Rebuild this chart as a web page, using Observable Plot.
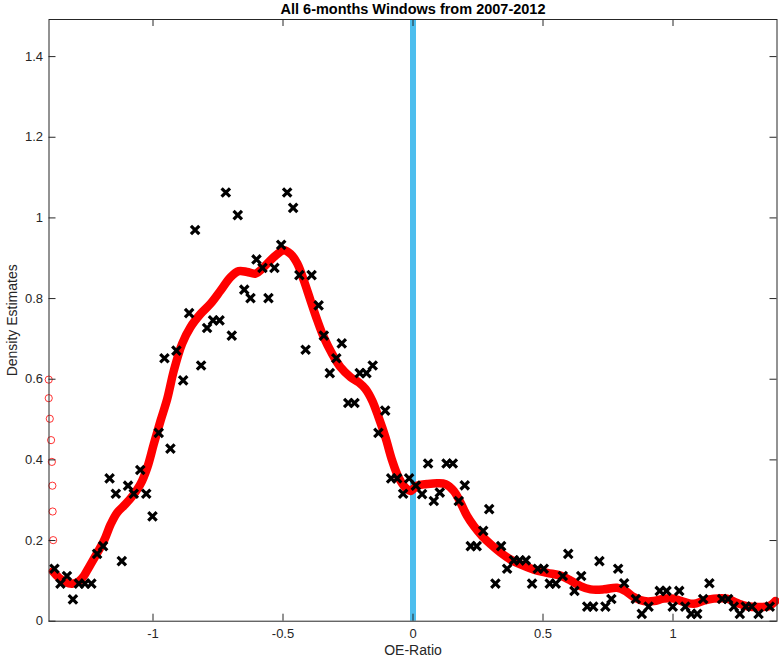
<!DOCTYPE html>
<html><head><meta charset="utf-8">
<script src="https://cdn.jsdelivr.net/npm/d3@7"></script>
<script src="https://cdn.jsdelivr.net/npm/@observablehq/plot@0.6"></script>
<style>body{margin:0;background:#fff}</style>
</head><body><div id="chart"></div>
<script>
const title = "All 6-months Windows from 2007-2012";
const xLabel = "OE-Ratio";
const yLabel = "Density Estimates";
const xTicks = [-1, -0.5, 0, 0.5, 1];
const yTicks = [0, 0.2, 0.4, 0.6, 0.8, 1, 1.2, 1.4];
const refLine = [0];

// black "x" markers: sample density estimates
const blackX = [-1.379,-1.356,-1.331,-1.308,-1.285,-1.262,-1.237,-1.215,-1.192,-1.167,-1.143,-1.120,-1.096,-1.074,-1.049,-1.026,-1.002,-0.978,-0.956,-0.933,-0.910,-0.884,-0.861,-0.838,-0.815,-0.792,-0.769,-0.744,-0.720,-0.697,-0.674,-0.649,-0.625,-0.602,-0.579,-0.556,-0.533,-0.507,-0.484,-0.461,-0.437,-0.413,-0.390,-0.363,-0.343,-0.320,-0.295,-0.274,-0.249,-0.225,-0.205,-0.179,-0.155,-0.133,-0.107,-0.084,-0.061,-0.038,-0.015,0.011,0.035,0.058,0.080,0.103,0.129,0.153,0.176,0.199,0.222,0.245,0.270,0.293,0.317,0.339,0.362,0.388,0.410,0.434,0.458,0.480,0.503,0.526,0.549,0.576,0.597,0.621,0.647,0.670,0.693,0.717,0.740,0.763,0.789,0.812,0.857,0.880,0.906,0.949,0.975,0.999,1.024,1.047,1.070,1.093,1.116,1.140,1.189,1.212,1.234,1.257,1.280,1.303,1.329,1.372];
const blackY = [0.130,0.093,0.112,0.054,0.093,0.093,0.093,0.167,0.186,0.354,0.316,0.149,0.336,0.316,0.375,0.316,0.260,0.467,0.652,0.428,0.671,0.597,0.764,0.970,0.634,0.727,0.746,0.746,1.063,0.708,1.007,0.822,0.801,0.897,0.876,0.801,0.876,0.933,1.063,1.025,0.858,0.673,0.858,0.783,0.708,0.615,0.652,0.689,0.541,0.541,0.615,0.615,0.634,0.467,0.522,0.354,0.354,0.316,0.354,0.336,0.315,0.391,0.298,0.319,0.391,0.391,0.298,0.337,0.186,0.186,0.224,0.278,0.093,0.186,0.130,0.151,0.151,0.151,0.093,0.130,0.130,0.093,0.093,0.112,0.167,0.075,0.112,0.036,0.036,0.149,0.036,0.055,0.130,0.094,0.055,0.018,0.036,0.075,0.075,0.036,0.075,0.036,0.018,0.018,0.055,0.094,0.055,0.055,0.036,0.018,0.036,0.036,0.018,0.036];

// red kernel density curve (traced)
const curveX = [-1.385,-1.362,-1.337,-1.311,-1.285,-1.266,-1.247,-1.221,-1.189,-1.163,-1.138,-1.106,-1.078,-1.048,-1.022,-0.997,-0.971,-0.945,-0.920,-0.888,-0.856,-0.817,-0.779,-0.740,-0.702,-0.670,-0.638,-0.606,-0.574,-0.535,-0.497,-0.471,-0.445,-0.420,-0.394,-0.368,-0.343,-0.311,-0.279,-0.240,-0.208,-0.183,-0.157,-0.132,-0.106,-0.080,-0.055,-0.029,-0.010,0.016,0.055,0.093,0.125,0.157,0.183,0.208,0.234,0.266,0.298,0.337,0.375,0.413,0.465,0.516,0.567,0.606,0.644,0.683,0.734,0.785,0.817,0.849,0.888,0.926,0.965,1.003,1.042,1.080,1.118,1.157,1.208,1.247,1.285,1.337,1.368,1.394];
const curveY = [0.124,0.108,0.097,0.093,0.099,0.112,0.133,0.162,0.199,0.240,0.269,0.290,0.311,0.340,0.381,0.439,0.497,0.552,0.621,0.688,0.729,0.762,0.787,0.820,0.853,0.868,0.866,0.862,0.878,0.903,0.920,0.911,0.887,0.845,0.795,0.746,0.704,0.663,0.630,0.605,0.592,0.576,0.547,0.505,0.456,0.398,0.356,0.331,0.323,0.336,0.340,0.342,0.340,0.323,0.294,0.261,0.236,0.211,0.191,0.170,0.153,0.141,0.128,0.120,0.113,0.101,0.087,0.079,0.079,0.083,0.075,0.060,0.050,0.050,0.056,0.056,0.048,0.043,0.051,0.056,0.056,0.045,0.037,0.035,0.037,0.050];

// isolated red circles at the left boundary
const edgeX = [-1.401,-1.401,-1.397,-1.392,-1.389,-1.387,-1.386,-1.384];
const edgeY = [0.599,0.553,0.502,0.449,0.395,0.336,0.272,0.201];

const pts = blackX.map((x, i) => ({x, y: blackY[i]}));
const curve = curveX.map((x, i) => ({x, y: curveY[i]}));
const edge = edgeX.map((x, i) => ({x, y: edgeY[i]}));

const W = 779, H = 660, mL = 48.5, mR = 2.5, mT = 19, mB = 39.3;
const fw = W - mL - mR, fh = H - mT - mB, tk = 7;
const ink = "#262626";
const font = "Helvetica, 'Liberation Sans', Arial, sans-serif";

const chart = Plot.plot({
  width: W, height: H,
  marginLeft: mL, marginRight: mR, marginTop: mT, marginBottom: mB,
  x: {domain: [-1.4, 1.4]},
  y: {domain: [0, 1.492]},
  style: {fontFamily: font, fontSize: "12.5px", color: ink, background: "#fff"},
  marks: [
    Plot.ruleX(refLine, {stroke: "#4DBEEE", strokeWidth: 6}),
    Plot.line(curve, {x: "x", y: "y", stroke: "#ff0000", strokeWidth: 8.5, curve: "catmull-rom", strokeLinecap: "round"}),
    Plot.dot(edge, {x: "x", y: "y", r: 3.6, stroke: "#ff0000", strokeWidth: 0.8, fill: "none"}),
    Plot.dot(pts, {x: "x", y: "y", symbol: "times", r: 3.9, stroke: "#000", strokeWidth: 3.2}),
    Plot.frame({stroke: ink, strokeWidth: 1}),
    Plot.ruleX(xTicks, {insetTop: fh - tk, stroke: ink}),
    Plot.ruleX(xTicks, {insetBottom: fh - tk, stroke: ink}),
    Plot.ruleY(yTicks, {insetRight: fw - tk, stroke: ink}),
    Plot.ruleY(yTicks, {insetLeft: fw - tk, stroke: ink}),
    Plot.axisX(xTicks, {tickSize: 0, tickPadding: 8, tickFormat: d => String(d), label: null, fontSize: 13}),
    Plot.axisY(yTicks, {tickSize: 0, tickPadding: 6, tickFormat: d => String(d), label: null, fontSize: 13}),
    Plot.text([title], {frameAnchor: "top", lineAnchor: "middle", dy: -10.5, fontWeight: "bold", fontSize: 14.5, fill: "#000"}),
    Plot.text([xLabel], {frameAnchor: "bottom", lineAnchor: "middle", dy: 29, fontSize: 14, fill: ink}),
    Plot.text([yLabel], {frameAnchor: "left", dx: -36, rotate: -90, textAnchor: "middle", fontSize: 14, fill: ink})
  ]
});
document.getElementById("chart").appendChild(chart);
</script>
</body></html>
